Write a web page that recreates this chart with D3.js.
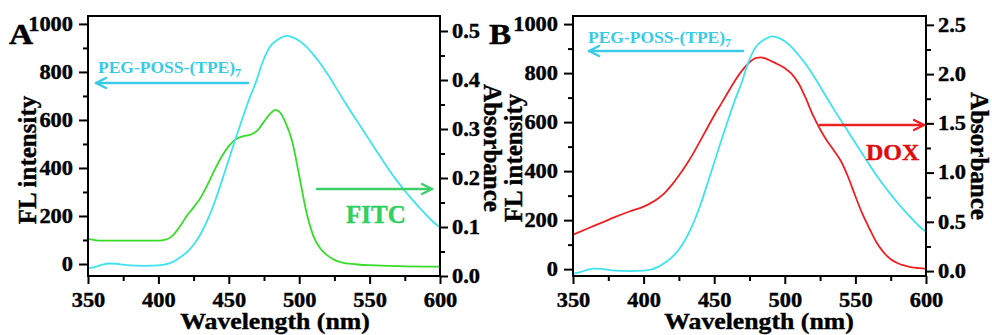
<!DOCTYPE html>
<html><head><meta charset="utf-8">
<script src="https://cdn.jsdelivr.net/npm/d3@7"></script>
<style>
html,body{margin:0;padding:0;background:#fff;}
svg text{font-family:"Liberation Serif","Times New Roman",serif;font-weight:bold;}
</style></head>
<body><svg id="c" width="992" height="335"></svg>
<script>
// ---- data ----
const xTicks = [350, 400, 450, 500, 550, 600];
const xMinor = [375, 425, 475, 525, 575];
const flTicks = [0, 200, 400, 600, 800, 1000];
const flMinor = [100, 300, 500, 700, 900];
const absTicksA = [0, 0.1, 0.2, 0.3, 0.4, 0.5];
const absMinorA = [0.05, 0.15, 0.25, 0.35, 0.45];
const absTicksB = [0, 0.5, 1.0, 1.5, 2.0, 2.5];
const absMinorB = [0.25, 0.75, 1.25, 1.75, 2.25];

// PEG-POSS-(TPE)7 fluorescence (left axis)
const tpeNm = [350,355,360,365,370,375,380,390,400,405,410,415,420,425,430,435,440,445,450,455,460,465,470,472,475,479,485,491,495,500,505,510,515,520,525,530,535,540,545,550,555,560,565,570,575,580,585,590,595,600];
const tpeFL = [-18,-12,-3,2,1,-3,-6,-8,-6,-2,8,26,48,80,125,185,258,345,435,525,612,695,770,808,855,903,935,950,945,930,905,872,835,792,745,697,650,605,560,515,470,425,382,342,305,270,237,206,176,152];

// FITC absorbance (right axis, panel A)
const fitcNm = [350,360,380,400,405,410,415,420,425,430,435,440,445,450,455,460,465,470,475,480,483,486,490,495,500,505,510,515,520,525,530,540,550,570,600];
const fitcAbs = [0.076,0.072,0.072,0.072,0.074,0.082,0.100,0.122,0.140,0.160,0.187,0.217,0.244,0.265,0.279,0.285,0.288,0.296,0.315,0.333,0.339,0.335,0.315,0.275,0.205,0.132,0.082,0.056,0.042,0.033,0.028,0.024,0.022,0.020,0.019];

// DOX absorbance (right axis, panel B)
const doxNm = [350,360,370,380,390,400,405,410,415,420,425,430,435,440,445,450,455,460,465,470,475,480,483,487,490,495,500,505,510,515,520,525,530,535,540,545,550,555,560,565,570,575,580,585,590,595,600];
const doxAbs = [0.37,0.43,0.49,0.55,0.605,0.655,0.69,0.735,0.795,0.875,0.97,1.075,1.19,1.32,1.45,1.58,1.70,1.82,1.94,2.04,2.12,2.165,2.17,2.155,2.135,2.10,2.06,2.00,1.90,1.75,1.58,1.44,1.32,1.22,1.11,0.95,0.76,0.58,0.43,0.29,0.19,0.12,0.08,0.055,0.038,0.03,0.025];

// ---- drawing ----
const svg = d3.select("#c");
const FONT = '"Liberation Serif","Times New Roman",serif';
const CYAN = "#3fe3f0", CYAN_T = "#38cbe6", GREEN = "#36dc28", GREEN_T = "#2fd060", RED = "#ec2222", RED_T = "#e00c0c";
const defs = svg.append("defs");
const stretched = [];

function panel(cfg) {
  const {x0, x1, y0, y1} = cfg;
  const x = d3.scaleLinear().domain([350, 600]).range([x0, x1]);
  const yL = d3.scaleLinear().domain(cfg.flDomain).range([y1, y0]);
  const yR = d3.scaleLinear().domain(cfg.absDomain).range([y1, y0]);
  const g = svg.append("g");
  const clipId = "clip" + cfg.id;
  defs.append("clipPath").attr("id", clipId).append("rect")
    .attr("x", x0).attr("y", y0).attr("width", x1 - x0).attr("height", y1 - y0);

  const line = (xs, ys, yS) => d3.line().curve(d3.curveMonotoneX)
    .x((d, i) => x(xs[i])).y((d, i) => yS(ys[i]))(xs);

  const plot = g.append("g").attr("clip-path", `url(#${clipId})`);
  cfg.series.forEach(s => {
    plot.append("path").attr("d", line(s.xs, s.ys, s.axis === "L" ? yL : yR))
      .attr("fill", "none").attr("stroke", s.color).attr("stroke-width", 1.8)
      .attr("stroke-linejoin", "round");
  });

  // box
  g.append("rect").attr("x", x0).attr("y", y0).attr("width", x1 - x0).attr("height", y1 - y0)
    .attr("fill", "none").attr("stroke", "#000").attr("stroke-width", 2);

  const fmtAxis = sel => {
    sel.attr("font-family", null).attr("font-size", null);
    sel.select(".domain").remove();
    sel.selectAll("line").attr("stroke", "#000").attr("stroke-width", 2);
    sel.selectAll("text").style("font-size", "20px").style("fill", "#000")
      .style("font-family", FONT).style("font-weight", "bold")
      .style("stroke", "#000").style("stroke-width", "0.4px")
      .each(function() { stretched.push([this, 1.12]); });
  };
  // bottom axis
  g.append("g").attr("transform", `translate(0,${y1})`)
    .call(d3.axisBottom(x).tickValues(xTicks).tickSize(8).tickPadding(9).tickSizeOuter(0).tickFormat(d3.format("d")))
    .call(fmtAxis);
  g.append("g").attr("transform", `translate(0,${y1})`)
    .call(d3.axisBottom(x).tickValues(xMinor).tickSize(5).tickFormat("").tickSizeOuter(0))
    .call(fmtAxis);
  // left axis
  g.append("g").attr("transform", `translate(${x0},0)`)
    .call(d3.axisLeft(yL).tickValues(flTicks).tickSize(9).tickPadding(6).tickSizeOuter(0).tickFormat(d3.format("d")))
    .call(fmtAxis);
  g.append("g").attr("transform", `translate(${x0},0)`)
    .call(d3.axisLeft(yL).tickValues(flMinor).tickSize(5).tickFormat("").tickSizeOuter(0))
    .call(fmtAxis);
  // right axis
  g.append("g").attr("transform", `translate(${x1},0)`)
    .call(d3.axisRight(yR).tickValues(cfg.absTicks).tickSize(8).tickPadding(4).tickSizeOuter(0).tickFormat(d3.format(".1f")))
    .call(fmtAxis);
  g.append("g").attr("transform", `translate(${x1},0)`)
    .call(d3.axisRight(yR).tickValues(cfg.absMinor).tickSize(5).tickFormat("").tickSizeOuter(0))
    .call(fmtAxis);

  // titles
  const wt = g.append("text").attr("x", cfg.xTitleX).attr("y", 329).attr("text-anchor", "middle")
    .attr("font-size", 23).attr("stroke", "#000").attr("stroke-width", 0.4).text("Wavelength (nm)");
  stretched.push([wt.node(), 1.12]);
  g.append("text").attr("transform", `translate(${cfg.flTitleX},${cfg.flTitleY}) rotate(-90)`)
    .attr("text-anchor", "middle").attr("font-size", 25).attr("stroke", "#000").attr("stroke-width", 0.4)
    .text("FL intensity");
  g.append("text").attr("transform", `translate(${cfg.absTitleX},${cfg.absTitleY}) rotate(90)`)
    .attr("text-anchor", "middle").attr("font-size", 25).attr("stroke", "#000").attr("stroke-width", 0.4)
    .text("Absorbance");
  const lt = g.append("text").attr("x", cfg.letterX).attr("y", 44).attr("font-size", 29)
    .attr("stroke", "#000").attr("stroke-width", 0.5).text(cfg.letter);
  stretched.push([lt.node(), 1.15]);

  // annotations
  const arrow = (xa, xb, y, color) => {
    const dir = xb > xa ? 1 : -1;
    const a = g.append("g").attr("stroke", color).attr("stroke-width", 2.4).attr("fill", "none")
      .attr("stroke-linecap", "round").attr("stroke-linejoin", "round");
    a.append("line").attr("x1", xa).attr("x2", xb).attr("y1", y).attr("y2", y);
    a.append("path").attr("d", `M${xb - dir * 10},${y - 5}L${xb},${y}L${xb - dir * 10},${y + 5}`);
  };
  const tp = g.append("text").attr("x", cfg.tpeX).attr("y", cfg.tpeY).attr("font-size", 17.5).attr("fill", CYAN_T);
  tp.append("tspan").text("PEG-POSS-(TPE)");
  tp.append("tspan").attr("font-size", 12).attr("dy", 4).text("7");
  arrow(cfg.tpeArrow[0], cfg.tpeArrow[1], cfg.tpeArrow[2], CYAN_T);
  g.append("text").attr("x", cfg.labX).attr("y", cfg.labY).attr("font-size", cfg.labSize)
    .attr("fill", cfg.labColor).attr("stroke", cfg.labColor).attr("stroke-width", 0.4).text(cfg.lab);
  arrow(cfg.labArrow[0], cfg.labArrow[1], cfg.labArrow[2], cfg.labArrowColor);
}

panel({
  id: "A", x0: 88, x1: 440, y0: 16, y1: 276,
  flDomain: [-50, 1033], absDomain: [0, 0.5306],
  absTicks: absTicksA, absMinor: absMinorA,
  series: [
    {xs: fitcNm, ys: fitcAbs, axis: "R", color: GREEN},
    {xs: tpeNm, ys: tpeFL, axis: "L", color: CYAN}
  ],
  xTitleX: 275, flTitleX: 36, flTitleY: 160, absTitleX: 484, absTitleY: 148,
  letter: "A", letterX: 9,
  tpeX: 98, tpeY: 73, tpeArrow: [248, 96, 83],
  lab: "FITC", labX: 346, labY: 223, labSize: 25, labColor: GREEN_T,
  labArrow: [317, 432, 189], labArrowColor: "#3ccf6a"
});
panel({
  id: "B", x0: 573, x1: 926, y0: 16, y1: 276,
  flDomain: [-28, 1033], absDomain: [-0.05, 2.59],
  absTicks: absTicksB, absMinor: absMinorB,
  series: [
    {xs: doxNm, ys: doxAbs, axis: "R", color: RED},
    {xs: tpeNm, ys: tpeFL, axis: "L", color: CYAN}
  ],
  xTitleX: 759, flTitleX: 522, flTitleY: 158, absTitleX: 971, absTitleY: 156,
  letter: "B", letterX: 489,
  tpeX: 588, tpeY: 43, tpeArrow: [743, 589, 51],
  lab: "DOX", labX: 866, labY: 160, labSize: 24, labColor: RED_T,
  labArrow: [820, 924, 125], labArrowColor: RED
});

// widen horizontal texts slightly to match the reference's wide lettering
stretched.forEach(([node, k]) => {
  if (!node.textContent) return;
  const w = node.getComputedTextLength();
  node.setAttribute("textLength", (w * k).toFixed(1));
  node.setAttribute("lengthAdjust", "spacingAndGlyphs");
});
</script></body></html>
